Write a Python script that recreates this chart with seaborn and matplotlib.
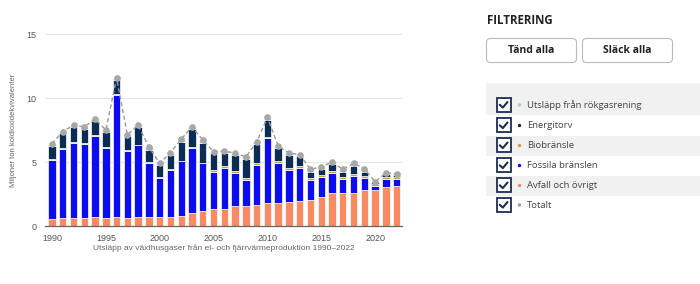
import numpy as np
import pandas as pd
import matplotlib
matplotlib.use("Agg")
import matplotlib.pyplot as plt
import seaborn as sns
from matplotlib.patches import FancyBboxPatch, Rectangle, Circle
from matplotlib.lines import Line2D

# ---------------- data ----------------
years = list(range(1990, 2023))
avfall = [0.55, 0.63, 0.63, 0.63, 0.68, 0.63, 0.68, 0.63, 0.73, 0.73, 0.73, 0.73, 0.81, 0.99, 1.15,
          1.30, 1.30, 1.57, 1.57, 1.64, 1.77, 1.83, 1.85, 1.96, 2.00, 2.30, 2.56, 2.56, 2.58, 2.79,
          2.79, 3.03, 3.13]
fossila = [4.62, 5.37, 5.84, 5.76, 6.36, 5.47, 9.57, 5.21, 5.56, 4.23, 3.03, 3.65, 4.23, 5.09, 3.75,
           2.95, 3.24, 2.60, 2.06, 3.16, 5.07, 3.07, 2.53, 2.55, 1.60, 1.56, 1.61, 1.14, 1.36, 0.99,
           0.34, 0.62, 0.57]
bio = [0.06, 0.06, 0.06, 0.06, 0.06, 0.06, 0.06, 0.06, 0.06, 0.06, 0.06, 0.06, 0.06, 0.06, 0.06,
       0.15, 0.15, 0.15, 0.15, 0.15, 0.15, 0.15, 0.15, 0.15, 0.15, 0.15, 0.15, 0.15, 0.15, 0.15,
       0.15, 0.15, 0.15]
energitorv = [1.03, 1.19, 1.19, 1.14, 1.07, 1.20, 1.12, 1.10, 1.37, 0.95, 0.93, 1.14, 1.47, 1.43, 1.56,
              1.29, 1.00, 1.24, 1.44, 1.42, 1.31, 1.03, 1.03, 0.77, 0.50, 0.45, 0.53, 0.40, 0.63, 0.27,
              0.19, 0.24, 0.17]
rokgas = [0.16, 0.13, 0.16, 0.16, 0.18, 0.14, 0.13, 0.12, 0.16, 0.19, 0.15, 0.16, 0.21, 0.18, 0.21,
          0.11, 0.15, 0.15, 0.18, 0.18, 0.18, 0.18, 0.13, 0.15, 0.18, 0.16, 0.15, 0.18, 0.18, 0.29,
          0.00, 0.11, 0.05]
totalt = [6.42, 7.38, 7.88, 7.75, 8.35, 7.50, 11.56, 7.12, 7.88, 6.16, 4.90, 5.74, 6.78, 7.75, 6.73,
          5.80, 5.84, 5.71, 5.40, 6.55, 8.48, 6.26, 5.69, 5.58, 4.43, 4.62, 5.00, 4.43, 4.90, 4.49,
          3.45, 4.15, 4.07]

series_names = ["Utsläpp från rökgasrening", "Energitorv", "Biobränsle", "Fossila bränslen",
                "Avfall och övrigt"]
series_vals = [rokgas, energitorv, bio, fossila, avfall]
colors = {"Utsläpp från rökgasrening": "#a9c8cf", "Energitorv": "#0b2d55", "Biobränsle": "#c9a046",
          "Fossila bränslen": "#0c0cf0", "Avfall och övrigt": "#fa8a62"}
total_name = "Totalt"
total_color = "#9a9a9a"

ytick_vals = [0, 5, 10, 15]
xtick_vals = [1990, 1995, 2000, 2005, 2010, 2015, 2020]
ylabel = "Miljoner ton koldioxidekvivalenter"
xlabel = "Utsläpp av växthusgaser från el- och fjärrvärmeproduktion 1990–2022"

rows = []
for name, vals in zip(series_names, series_vals):
    for y, v in zip(years, vals):
        rows.append({"year": y, "serie": name, "value": v})
df = pd.DataFrame(rows)

# ---------------- figure ----------------
sns.set_style("white")
plt.rcParams["font.family"] = ["Liberation Sans", "DejaVu Sans"]
fig = plt.figure(figsize=(7.0, 2.84), dpi=100)
ax = fig.add_axes([45 / 700, 1 - 226 / 284, (402 - 45) / 700, (226 - 34) / 284])

sns.histplot(data=df, x="year", weights="value", hue="serie", hue_order=series_names,
             multiple="stack", discrete=True, shrink=0.68, palette=colors, alpha=1,
             edgecolor="white", linewidth=0.5, legend=False, ax=ax, zorder=2)

sns.lineplot(x=years, y=totalt, ax=ax, color=total_color, linewidth=1.0, linestyle=(0, (3, 2)),
             marker="o", markersize=4, markerfacecolor="#a8a8a8", markeredgecolor="#a8a8a8",
             zorder=4)

ax.set_xlim(1989.35, 2022.5)
ax.set_ylim(0, 15)
ax.set_yticks(ytick_vals)
ax.set_xticks(xtick_vals)
ax.set_yticklabels([str(v) for v in ytick_vals])
ax.set_xticklabels([str(v) for v in xtick_vals])
ax.tick_params(axis="y", length=0, labelsize=6.5, labelcolor="#555555", pad=6)
ax.tick_params(axis="x", length=4, width=0.8, color="#555555", labelsize=6.5,
               labelcolor="#555555", pad=1.5, direction="out")
for v in ytick_vals[1:]:
    ax.axhline(v, color="#e6e6e6", linewidth=0.8, zorder=0)
for s in ["top", "right", "left"]:
    ax.spines[s].set_visible(False)
ax.spines["bottom"].set_color("#666666")
ax.spines["bottom"].set_linewidth(0.9)
ax.set_ylabel(ylabel, fontsize=5.5, color="#666666", labelpad=7)
ax.set_xlabel(xlabel, fontsize=6, color="#666666", labelpad=1)

# ---------------- filter panel (pixel coordinates) ----------------
ov = fig.add_axes([0, 0, 1, 1], facecolor="none")
ov.set_xlim(0, 700)
ov.set_ylim(284, 0)
ov.axis("off")

panel_font = ["Open Sans", "DejaVu Sans"]
ov.text(487, 20, "FILTRERING", fontsize=8.3, fontweight="bold", color="#222222",
        family=panel_font, va="center", ha="left")
for x0, label in [(486.5, "Tänd alla"), (582.5, "Släck alla")]:
    ov.add_patch(FancyBboxPatch((x0, 38.5), 90, 24, boxstyle="round,pad=0,rounding_size=4",
                                facecolor="white", edgecolor="#bbbbbb", linewidth=0.8))
    ov.text(x0 + 45, 50.5, label, fontsize=7.5, fontweight="bold", color="#222222",
            family=panel_font, ha="center", va="center")

ov.add_patch(Rectangle((486, 83), 214, 32, facecolor="#f1f1f1", edgecolor="none"))
ov.add_patch(Rectangle((486, 135.5), 214, 20, facecolor="#f1f1f1", edgecolor="none"))
ov.add_patch(Rectangle((486, 175.5), 214, 20, facecolor="#f1f1f1", edgecolor="none"))

legend_items = series_names + [total_name]
legend_colors = [colors[n] for n in series_names] + [total_color]
row_y = [105, 125.5, 145.5, 165.5, 185.5, 205]
for name, col, yy in zip(legend_items, legend_colors, row_y):
    ov.add_patch(Rectangle((496.5, yy - 7.5), 14, 14, facecolor="white", edgecolor="#1a2f57",
                           linewidth=1.3))
    ov.add_line(Line2D([499.8, 502.8, 507.5], [yy - 0.2, yy + 2.6, yy - 3.0], color="#1a2f57",
                       linewidth=1.5, solid_capstyle="round", solid_joinstyle="round"))
    ov.add_patch(Circle((519.5, yy), 1.7, facecolor=col, edgecolor="none"))
    ov.text(527, yy, name, fontsize=6.8, color="#444444", family=panel_font,
            ha="left", va="center")

fig.savefig("out.png", dpi=100)
